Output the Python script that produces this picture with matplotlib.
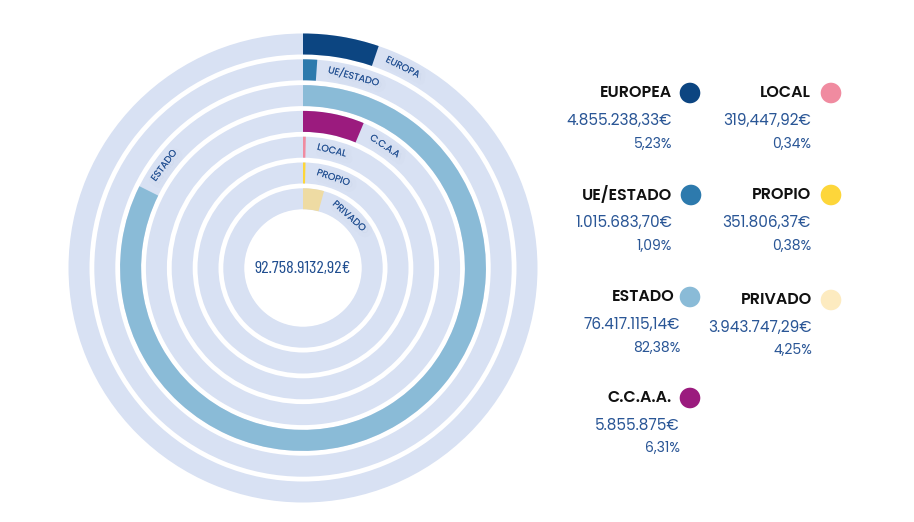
import matplotlib
matplotlib.use("Agg")
import numpy as np
import matplotlib.pyplot as plt
import matplotlib.patheffects as pe
from matplotlib.patches import Wedge, Circle
from matplotlib.textpath import TextPath
from matplotlib.font_manager import FontProperties

# data, outer ring to inner ring
ring_labels = ["EUROPA", "UE/ESTADO", "ESTADO", "C.C.A.A", "LOCAL", "PROPIO", "PRIVADO"]
legend_titles = ["EUROPEA", "UE/ESTADO", "ESTADO", "C.C.A.A.", "LOCAL", "PROPIO", "PRIVADO"]
amounts = ["4.855.238,33€", "1.015.683,70€", "76.417.115,14€", "5.855.875€",
           "319,447,92€", "351.806,37€", "3.943.747,29€"]
percents = [5.23, 1.09, 82.38, 6.31, 0.34, 0.38, 4.25]
percent_labels = ["5,23%", "1,09%", "82,38%", "6,31%", "0,34%", "0,38%", "4,25%"]
total_label = "92.758.9132,92€"

colors = ["#0c4581", "#2d7aad", "#8abbd7", "#9b1b7e", "#f08ba0", "#fdd63a", "#eedba3"]
dot_colors = ["#0c4581", "#2d7aad", "#8abbd7", "#9b1b7e", "#f08ba0", "#fdd63a", "#fdebc0"]
track = "#d8e1f3"
navy = "#2a5696"
main_fam = ["Poppins", "Lato", "DejaVu Sans"]

fig = plt.figure(figsize=(9.14, 5.22), dpi=100)
ax = fig.add_axes([0, 0, 1, 1])
ax.set_xlim(0, 914)
ax.set_ylim(522, 0)
ax.set_aspect("equal")
ax.axis("off")

cx, cy = 303, 268
r_outer, pitch, width = 234.5, 25.8, 21.0
label_font = FontProperties(family=main_fam, size=6.9)
shadow = [pe.withStroke(linewidth=6, foreground="#a0a8bb", alpha=0.03, offset=(2, -2)),
          pe.Normal()]

for i, (lab, pct, col) in enumerate(zip(ring_labels, percents, colors)):
    r = r_outer - i * pitch
    ax.add_patch(Wedge((cx, cy), r, 0, 360, width=width, color=track, lw=0))
    sweep = pct / 100 * 360
    # clockwise from the top on screen (y axis is inverted)
    ax.add_patch(Wedge((cx, cy), r, -90, -90 + sweep, width=width, color=col, lw=0))

    r_mid = r - width / 2
    tw = TextPath((0, 0), lab, prop=label_font).get_extents().width * 100 / 72
    a = sweep + np.degrees((12 + tw / 2) / r_mid)
    t = np.radians(a)
    ax.text(cx + r_mid * np.sin(t), cy - r_mid * np.cos(t), lab, fontproperties=label_font,
            color=navy, rotation=-a, rotation_mode="anchor", ha="center", va="center",
            path_effects=shadow)

ax.add_patch(Circle((cx, cy), r_outer - 6 * pitch - width - 0.5, color="white", lw=0))
ax.text(cx, cy + 1, total_label, family=["Barlow Condensed", "Roboto Condensed", "DejaVu Sans"],
        size=13, color="#1f4d8f", ha="center", va="center")

# legend blocks: (right edge of text, title y, circle x, value right edge)
layout = [(672, 93, 690, 672), (672, 195, 691, 672), (675, 297, 690, 680), (672, 398, 690, 680),
          (811, 93, 831, 811), (811, 195, 831, 811), (812, 300, 831, 812)]
for (xr, ty, dx, vr), title, amt, pl, dc in zip(layout, legend_titles, amounts, percent_labels, dot_colors):
    ax.text(xr, ty, title, family=main_fam, weight="semibold", size=11.5, color="#111111",
            ha="right", va="center")
    ax.add_patch(Circle((dx, ty), 10.3, color=dc, lw=0))
    ax.text(vr, ty + 28, amt, family=main_fam, size=11, color=navy, ha="right", va="center")
    ax.text(vr, ty + 51, pl, family=main_fam, size=10, color=navy, ha="right", va="center")

fig.savefig("out.png", dpi=100, facecolor="white")
